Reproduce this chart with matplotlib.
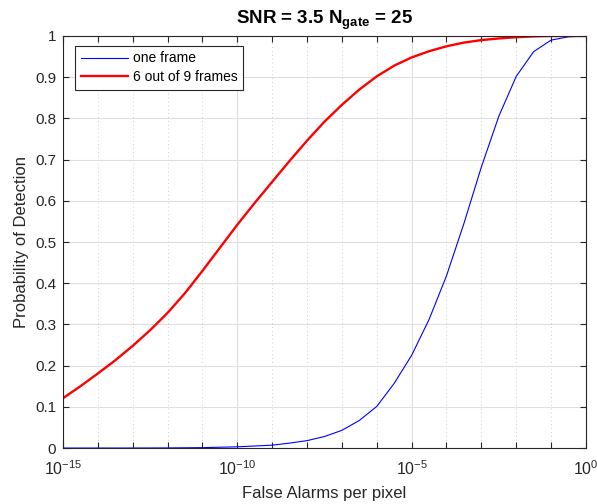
import numpy as np
import matplotlib
matplotlib.use('Agg')
import matplotlib.pyplot as plt
from matplotlib.ticker import LogLocator, NullFormatter

plt.rcParams['font.family'] = ['Liberation Sans', 'DejaVu Sans']
plt.rcParams['mathtext.fontset'] = 'custom'
plt.rcParams['mathtext.rm'] = 'Liberation Sans'
plt.rcParams['mathtext.bf'] = 'Liberation Sans:bold'

# values (log10 of false-alarm rate -> Pd)
one_frame_logpfa = [-15, -14, -13, -12, -11, -10, -9, -8.5, -8, -7.5, -7, -6.5, -6,
                    -5.5, -5, -4.5, -4, -3.5, -3, -2.5, -2, -1.5, -1, -0.5, 0]
one_frame_pd = [0.0, 0.00002, 0.0001, 0.0003, 0.001, 0.003, 0.007, 0.012, 0.018, 0.028,
                0.043, 0.067, 0.101, 0.157, 0.225, 0.312, 0.418, 0.545, 0.682, 0.805,
                0.902, 0.962, 0.990, 0.998, 1.0]

six_of_nine_logpfa = [-15, -14.5, -14, -13.5, -13, -12.5, -12, -11.5, -11, -10.5, -10,
                      -9.5, -9, -8.5, -8, -7.5, -7, -6.5, -6, -5.5, -5, -4.5, -4,
                      -3.5, -3, -2.5, -2, -1.5, -1, 0]
six_of_nine_pd = [0.121, 0.150, 0.181, 0.213, 0.248, 0.286, 0.328, 0.376, 0.430, 0.486,
                  0.542, 0.595, 0.646, 0.697, 0.746, 0.792, 0.833, 0.870, 0.902, 0.928,
                  0.948, 0.963, 0.975, 0.984, 0.990, 0.994, 0.997, 0.999, 1.0, 1.0]

y_ticks = [0, 0.1, 0.2, 0.3, 0.4, 0.5, 0.6, 0.7, 0.8, 0.9, 1]
y_ticklabels = ['0', '0.1', '0.2', '0.3', '0.4', '0.5', '0.6', '0.7', '0.8', '0.9', '1']

fig = plt.figure(figsize=(5.97, 5.04), dpi=100)
ax = fig.add_axes([0.1055, 0.111, 0.876, 0.8176])

ax.plot(10.0 ** np.array(one_frame_logpfa), one_frame_pd, color='#0000ff', lw=0.8, label='one frame')
ax.plot(10.0 ** np.array(six_of_nine_logpfa), six_of_nine_pd, color='#ff0000', lw=1.7, label='6 out of 9 frames')

ax.set_xscale('log')
ax.set_xlim(1e-15, 1)
ax.set_ylim(0, 1)
ax.set_xticks([1e-15, 1e-10, 1e-5, 1])
ax.xaxis.set_minor_locator(LogLocator(base=10, subs=[1.0], numticks=40))
ax.xaxis.set_minor_formatter(NullFormatter())
ax.set_yticks(y_ticks)
ax.set_yticklabels(y_ticklabels)

ax.grid(True, which='major', color='#dfdfdf', lw=0.8, ls='-')
ax.grid(True, which='minor', axis='x', color='#d0d0d0', lw=0.7, ls=(0, (1, 3)))
ax.set_axisbelow(True)

ax.tick_params(which='both', direction='in', top=True, right=True, length=4,
               width=0.8, colors='#262626', labelsize=11, pad=5)
ax.tick_params(axis='x', which='both', pad=8, labelsize=11.5)
for s in ax.spines.values():
    s.set_color('#262626')
    s.set_linewidth(0.8)

ax.set_xlabel('False Alarms per pixel', fontsize=12, color='#262626', labelpad=6)
ax.set_ylabel('Probability of Detection', fontsize=12, color='#262626')
ax.set_title(r'SNR = 3.5 N$_{\mathbf{gate}}$ = 25', fontsize=13.5, fontweight='bold', color='#000000', pad=9)

leg = ax.legend(loc='upper left', bbox_to_anchor=(0.023, 0.976), borderaxespad=0, fontsize=10,
                fancybox=False, edgecolor='#262626', framealpha=1, handlelength=3.4, borderpad=0.4,
                labelspacing=0.35, handletextpad=0.35)
leg.get_frame().set_linewidth(0.8)

fig.savefig('out.png', dpi=100)
